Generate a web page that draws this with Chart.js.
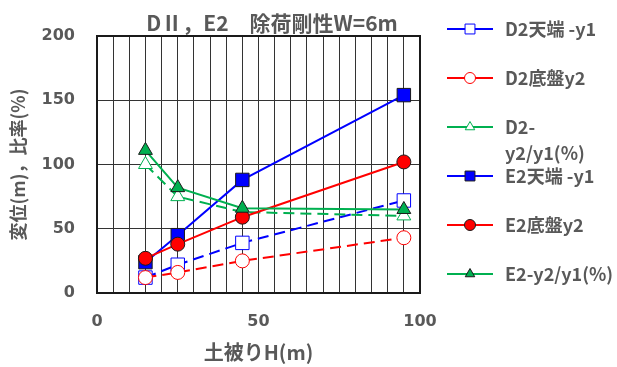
<!DOCTYPE html>
<html>
<head>
<meta charset="utf-8">
<script src="https://cdn.jsdelivr.net/npm/chart.js@4/dist/chart.umd.min.js"></script>
<style>
  html, body { margin: 0; padding: 0; background: #fff; }
  #wrap { width: 617px; height: 367px; }
</style>
</head>
<body>
<div id="wrap"><canvas id="c" width="617" height="367"></canvas></div>
<script>
// 土被り H (m)
const coverDepth = [15, 25, 45, 95];

// D2 series (dashed, open markers)
const d2TopY1 = [12, 22, 39, 72];
const d2BaseY2 = [12, 16, 25, 43];
const d2Ratio = [100, 75, 63, 60];

// E2 series (solid, filled markers)
const e2TopY1 = [24, 45, 88, 154];
const e2BaseY2 = [27, 38, 59, 102];
const e2Ratio = [111, 82, 66, 65];

const chartTitle = 'DⅡ，E2　除荷剛性W=6m';
const xTitle = '土被りH(m)';
const yTitle = '変位(m)，比率(%)';

const FONT = '"Noto Sans CJK JP", "Noto Sans", sans-serif';
const TICK_FONT = '"DejaVu Sans", sans-serif';
const TEXT = '#595959';
const BLUE = '#0000FF', RED = '#FF0000', GREEN = '#00B050';

const pts = ys => coverDepth.map((x, i) => ({ x, y: ys[i] }));

function series(label, ys, color, style, filled, radius, idx) {
  return {
    label,
    data: pts(ys),
    order: 10 - idx, // later series are painted on top
    borderColor: color,
    borderWidth: 2,
    borderDash: filled ? [] : [11, 6],
    pointStyle: style,
    pointRadius: radius,
    pointHoverRadius: radius,
    pointBackgroundColor: filled ? color : '#ffffff',
    pointBorderColor: filled ? '#1a1a1a' : color,
    pointBorderWidth: 1,
    fill: false,
    tension: 0
  };
}

const datasets = [
  series('D2天端 -y1', d2TopY1, BLUE, 'rect', false, 9.5, 0),
  series('D2底盤y2', d2BaseY2, RED, 'circle', false, 7, 1),
  series('D2-\ny2/y1(%)', d2Ratio, GREEN, 'triangle', false, 8, 2),
  series('E2天端 -y1', e2TopY1, BLUE, 'rect', true, 9.5, 3),
  series('E2底盤y2', e2BaseY2, RED, 'circle', true, 7, 4),
  series('E2-y2/y1(%)', e2Ratio, GREEN, 'triangle', true, 8, 5)
];

// Legend row positions (vertical centres)
const legendRows = [29, 78, 127, 176, 225, 274];

const decor = {
  id: 'decor',
  afterDraw(chart) {
    const ctx = chart.ctx;
    const a = chart.chartArea;
    ctx.save();
    // plot frame
    ctx.strokeStyle = '#1a1a1a';
    ctx.lineWidth = 2;
    ctx.strokeRect(a.left, a.top, a.right - a.left, a.bottom - a.top);

    // title
    ctx.fillStyle = TEXT;
    ctx.font = 'bold 21px ' + FONT;
    ctx.textAlign = 'center';
    ctx.textBaseline = 'middle';
    ctx.fillText(chartTitle, 272, 23);

    // legend
    ctx.textAlign = 'left';
    ctx.font = 'bold 18px ' + FONT;
    chart.data.datasets.forEach((ds, i) => {
      const y = legendRows[i];
      ctx.save();
      ctx.strokeStyle = ds.borderColor;
      ctx.lineWidth = 2;
      ctx.setLineDash([]);
      ctx.beginPath();
      ctx.moveTo(447, y);
      ctx.lineTo(493, y);
      ctx.stroke();
      ctx.fillStyle = ds.pointBackgroundColor;
      ctx.strokeStyle = ds.pointBorderColor;
      ctx.lineWidth = 1;
      Chart.helpers.drawPoint(ctx, { pointStyle: ds.pointStyle, radius: ds.pointStyle === 'rect' ? 7 : 5.5, borderWidth: 1 }, 470, y);
      ctx.restore();
      ctx.fillStyle = TEXT;
      ds.label.split('\n').forEach((line, k) => {
        ctx.fillText(line, 505, y + k * 26);
      });
    });
    ctx.restore();
  }
};

new Chart(document.getElementById('c'), {
  type: 'line',
  data: { datasets },
  options: {
    responsive: false,
    animation: false,
    devicePixelRatio: 1,
    layout: { padding: { left: 0, top: 36, right: 197, bottom: 0 } },
    plugins: { legend: { display: false }, title: { display: false }, tooltip: { enabled: false } },
    scales: {
      x: {
        type: 'linear',
        min: 0, max: 100,
        afterFit(s) { s.height = 74; },
        ticks: {
          stepSize: 5,
          padding: 19,
          autoSkip: false,
          maxRotation: 0,
          color: TEXT,
          font: { family: TICK_FONT, size: 16, weight: 'bold' },
          callback: v => (v % 50 === 0 ? String(v) : '')
        },
        grid: { color: '#333333', lineWidth: 1, drawTicks: false },
        border: { display: false },
        title: {
          display: true, text: xTitle, color: TEXT,
          font: { family: FONT, size: 20, weight: 'bold' },
          padding: { top: 0, bottom: 3 }
        }
      },
      y: {
        min: 0, max: 200,
        afterFit(s) { s.width = 97; },
        ticks: {
          stepSize: 50,
          padding: 22,
          color: TEXT,
          font: { family: TICK_FONT, size: 16, weight: 'bold' }
        },
        grid: { color: '#333333', lineWidth: 1, drawTicks: false },
        border: { display: false },
        title: {
          display: true, text: yTitle, color: TEXT,
          font: { family: FONT, size: 18, weight: 'bold' },
          padding: { top: 7, bottom: 0 }
        }
      }
    }
  },
  plugins: [decor]
});
</script>
</body>
</html>
